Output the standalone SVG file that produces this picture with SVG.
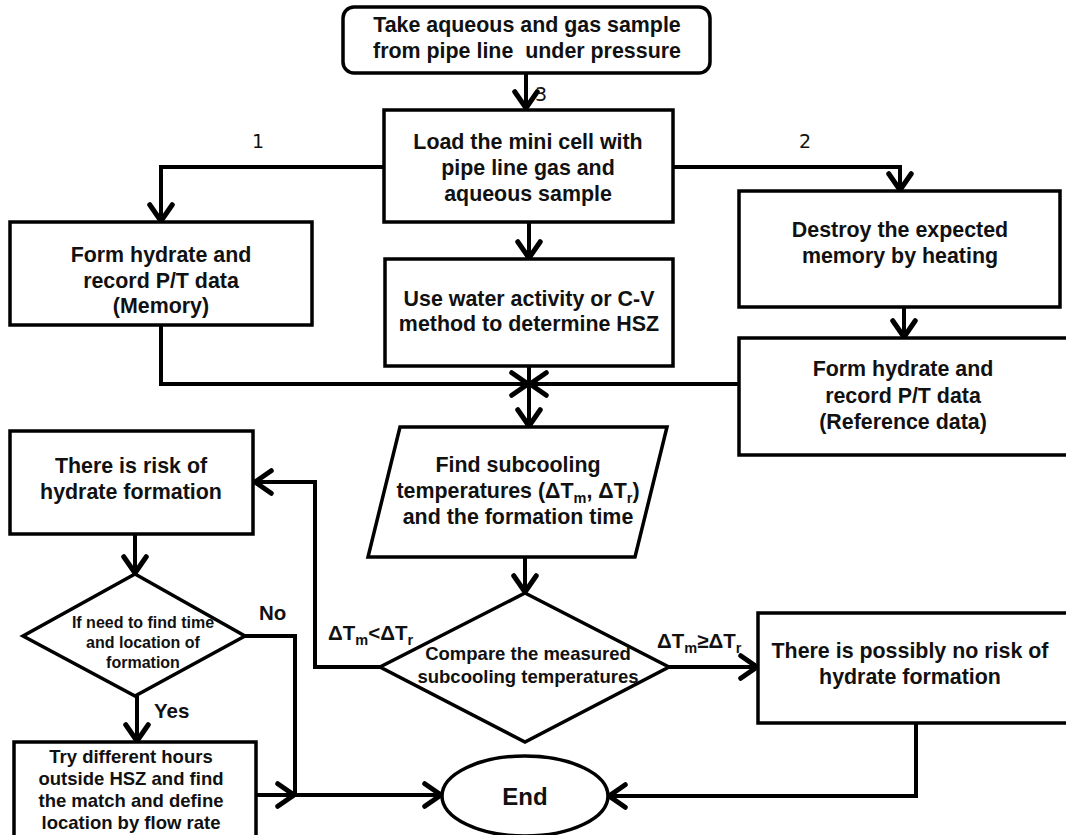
<svg xmlns="http://www.w3.org/2000/svg" width="1066" height="835" viewBox="0 0 1066 835">
  <style>
    .box { fill: #fff; stroke: #000; stroke-width: 3.5; }
    .wire { fill: none; stroke: #000; stroke-width: 4; }
    .t { font-family: "Liberation Sans", Arial, sans-serif; font-weight: bold; fill: #111; text-anchor: middle; }
    .big { font-size: 21.4px; }
    .mid { font-size: 18.5px; }
    .sm { font-size: 16px; }
    .num { font-family: "DejaVu Sans", "Liberation Sans", sans-serif; font-size: 19px; fill: #111; }
    .lbl { font-family: "Liberation Sans", Arial, sans-serif; font-weight: bold; font-size: 20.5px; fill: #111; }
  </style>
  <defs>
    <marker id="arrow" markerUnits="userSpaceOnUse" orient="auto" refX="0" refY="0" markerWidth="30" markerHeight="30" viewBox="-16 -12 20 24" overflow="visible">
      <path d="M-13,-9 L0,0 L-13,9" fill="none" stroke="#000" stroke-width="4" stroke-linecap="round" stroke-linejoin="miter"/>
    </marker>
  </defs>
  <rect width="1066" height="835" fill="#fff"/>

  <!-- connectors -->
  <g id="connectors" class="wire" marker-end="url(#arrow)">
    <path d="M526,73 V108"/>
    <path d="M384,167 H161 V221"/>
    <path d="M673,167 H900 V190"/>
    <path d="M529,222 V258"/>
    <path d="M904,307 V337"/>
    <path d="M161,325 V384 H528"/>
    <path d="M739,384 H530"/>
    <path d="M529,366 V426"/>
    <path d="M525,557 V592"/>
    <path d="M380,667 H315 V482 H255"/>
    <path d="M669,667 H757"/>
    <path d="M135,534 V573"/>
    <path d="M137,696 V741"/>
    <path d="M245,636 H295 V795" marker-end="none"/>
    <path d="M256,795 H294"/>
    <path d="M295,795 H441"/>
    <path d="M916,723 V796 H609"/>
  </g>

  <!-- branch numbers -->
  <g id="branch-labels">
    <text class="num" x="535" y="101">3</text>
    <text class="num" x="252" y="148">1</text>
    <text class="num" x="799" y="148">2</text>
  </g>

  <g id="start">
    <rect class="box" x="343" y="7" width="367" height="66" rx="11"/>
    <text class="t big" x="527" y="32">Take aqueous and gas sample</text>
    <text class="t big" x="527" y="58" xml:space="preserve">from pipe line  under pressure</text>
  </g>

  <g id="load">
    <rect class="box" x="384" y="110" width="289" height="112"/>
    <text class="t big" x="528" y="149">Load the mini cell with</text>
    <text class="t big" x="528" y="175">pipe line gas and</text>
    <text class="t big" x="528" y="201">aqueous sample</text>
  </g>

  <g id="memory">
    <rect class="box" x="10" y="222" width="302" height="103"/>
    <text class="t big" x="161" y="262">Form hydrate and</text>
    <text class="t big" x="161" y="288">record P/T data</text>
    <text class="t big" x="161" y="313">(Memory)</text>
  </g>

  <g id="hsz">
    <rect class="box" x="385" y="259" width="288" height="107"/>
    <text class="t big" x="529" y="306">Use water activity or C-V</text>
    <text class="t big" x="529" y="331">method to determine HSZ</text>
  </g>

  <g id="destroy">
    <rect class="box" x="739" y="191" width="321" height="116"/>
    <text class="t big" x="900" y="237">Destroy the expected</text>
    <text class="t big" x="900" y="263">memory by heating</text>
  </g>

  <g id="reference">
    <rect class="box" x="739" y="338" width="340" height="117"/>
    <text class="t big" x="903" y="376">Form hydrate and</text>
    <text class="t big" x="903" y="403">record P/T data</text>
    <text class="t big" x="903" y="429">(Reference data)</text>
  </g>

  <g id="subcooling">
    <polygon class="box" points="400,427 667,427 635,557 368,557"/>
    <text class="t big" x="518" y="472">Find subcooling</text>
    <text class="t big" x="518" y="498">temperatures (ΔT<tspan font-size="14.5" dy="5">m</tspan><tspan dy="-5">, ΔT</tspan><tspan font-size="14.5" dy="5">r</tspan><tspan dy="-5">)</tspan></text>
    <text class="t big" x="518" y="524">and the formation time</text>
  </g>

  <g id="risk">
    <rect class="box" x="10" y="431" width="243" height="103"/>
    <text class="t big" x="131" y="473">There is risk of</text>
    <text class="t big" x="131" y="499">hydrate formation</text>
  </g>

  <g id="compare">
    <polygon class="box" points="525,593 669,667 525,742 380,667"/>
    <text class="t mid" x="528" y="660">Compare the measured</text>
    <text class="t mid" x="528" y="683">subcooling temperatures</text>
  </g>

  <g id="need-location">
    <polygon class="box" points="135,574 245,636 135,696 23,636"/>
    <text class="t sm" x="143" y="628">If need to find time</text>
    <text class="t sm" x="143" y="648">and location of</text>
    <text class="t sm" x="143" y="668">formation</text>
  </g>

  <g id="try-hours">
    <rect class="box" x="14" y="742" width="242" height="100"/>
    <text class="t mid" x="131" y="763">Try different hours</text>
    <text class="t mid" x="131" y="785">outside HSZ and find</text>
    <text class="t mid" x="131" y="807">the match and define</text>
    <text class="t mid" x="131" y="829">location by flow rate</text>
  </g>

  <g id="no-risk">
    <rect class="box" x="758" y="613" width="320" height="110"/>
    <text class="t big" x="910" y="658">There is possibly no risk of</text>
    <text class="t big" x="910" y="684">hydrate formation</text>
  </g>

  <g id="end">
    <ellipse class="box" cx="525" cy="796" rx="83" ry="40"/>
    <text class="t" x="525" y="805" font-size="24">End</text>
  </g>

  <!-- decision labels -->
  <g id="decision-labels">
    <text class="lbl" x="259" y="620">No</text>
    <text class="lbl" x="154" y="718">Yes</text>
    <text class="lbl" x="328" y="640">ΔT<tspan font-size="14.5" dy="5">m</tspan><tspan dy="-5">&lt;ΔT</tspan><tspan font-size="14.5" dy="5">r</tspan></text>
    <text class="lbl" x="657" y="648">ΔT<tspan font-size="14.5" dy="5">m</tspan><tspan dy="-5">≥ΔT</tspan><tspan font-size="14.5" dy="5">r</tspan></text>
  </g>
</svg>
